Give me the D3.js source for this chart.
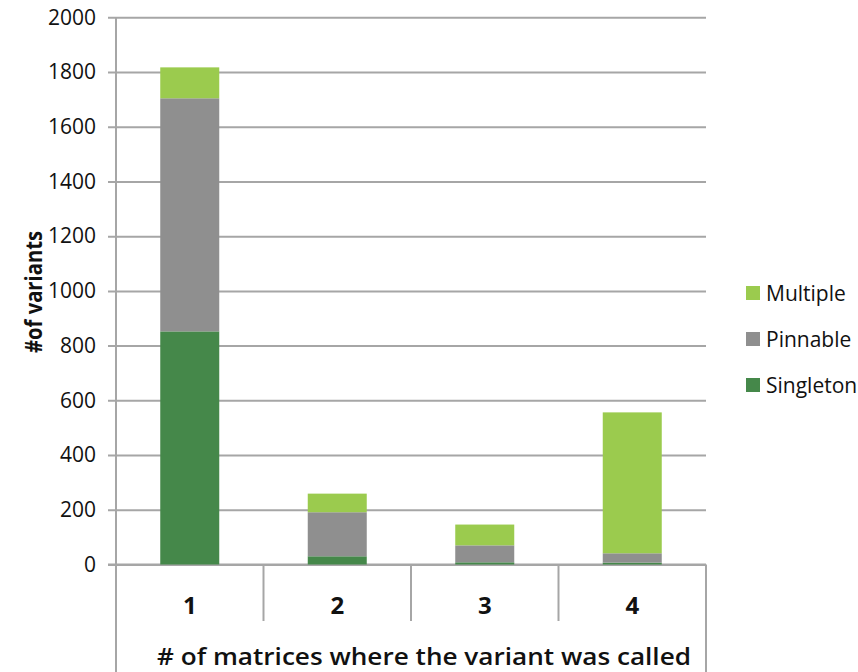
<!DOCTYPE html>
<html><head><meta charset="utf-8">
<script src="https://cdn.jsdelivr.net/npm/d3@7"></script>
<style>body{margin:0;background:#fff}svg{display:block}text{font-family:"Open Sans",sans-serif;fill:#111}</style>
</head><body><svg id="c" width="858" height="672"></svg>
<script>
const categories = ["1","2","3","4"];
const seriesNames = ["Singleton","Pinnable","Multiple"];
const singleton = [852, 30, 8, 7];
const pinnable = [852, 161, 62, 34];
const multiple = [113, 68, 76, 515];
const yTicks = [0,200,400,600,800,1000,1200,1400,1600,1800,2000];
const colors = {Singleton:"#45884a", Pinnable:"#8f8f8f", Multiple:"#9bcb4e"};

(function(){
const svg = d3.select("#c");
const pL = 116, pR = 706, pT = 17.3, base = 564.5, pB = 672;
const y = d3.scaleLinear().domain([0,2000]).range([base, pT]);
const x = d3.scaleBand().domain(categories).range([pL, pR]).paddingInner(0.6).paddingOuter(0.3);
const gridC = "#a6a6a6";

const yAxis = d3.axisLeft(y).tickValues(yTicks).tickSize(-(pR-pL)).tickPadding(20).tickFormat(d3.format("d"));
const ga = svg.append("g").attr("transform",`translate(${pL},0)`).call(yAxis);
ga.select(".domain").remove();
ga.selectAll(".tick line").attr("stroke",gridC).attr("stroke-width",2).attr("x1",-8);
ga.selectAll(".tick text").style("font-size","21px").style("font-family","'Open Sans',sans-serif").attr("fill","#111");

svg.append("line").attr("x1",pL-8).attr("x2",pR).attr("y1",base).attr("y2",base).attr("stroke",gridC).attr("stroke-width",2);

const rows = categories.map((c,i)=>({cat:c, Singleton:singleton[i], Pinnable:pinnable[i], Multiple:multiple[i]}));
const stack = d3.stack().keys(seriesNames)(rows);
svg.append("g").selectAll("g").data(stack).join("g").attr("fill",d=>colors[d.key])
  .selectAll("rect").data(d=>d).join("rect")
  .attr("x",d=>x(d.data.cat)).attr("width",x.bandwidth())
  .attr("y",d=>y(d[1])).attr("height",d=>y(d[0])-y(d[1]));

svg.append("line").attr("x1",pL).attr("x2",pL).attr("y1",pT).attr("y2",pB).attr("stroke",gridC).attr("stroke-width",2);
svg.append("line").attr("x1",pR).attr("x2",pR).attr("y1",base).attr("y2",pB).attr("stroke",gridC).attr("stroke-width",2);
categories.slice(1).forEach((c,i)=>{
  const xx = pL + (i+1)*(pR-pL)/categories.length;
  svg.append("line").attr("x1",xx).attr("x2",xx).attr("y1",base).attr("y2",621).attr("stroke",gridC).attr("stroke-width",2);
});
svg.append("g").selectAll("text").data(categories).join("text")
  .attr("x",d=>x(d)+x.bandwidth()/2).attr("y",614).attr("text-anchor","middle")
  .style("font-size","24px").style("font-weight","bold").text(d=>d);

svg.append("text").attr("x",(157+691)/2).attr("y",665).attr("text-anchor","middle")
  .attr("textLength",534).attr("lengthAdjust","spacingAndGlyphs")
  .style("font-size","23px").style("font-weight","600").text("# of matrices where the variant was called");
svg.append("text").attr("transform","translate(42,292) rotate(-90)").attr("text-anchor","middle")
  .attr("textLength",122).attr("lengthAdjust","spacingAndGlyphs")
  .style("font-size","23px").style("font-weight","bold").text("#of variants");

const legendOrder = ["Multiple","Pinnable","Singleton"];
const lg = svg.append("g").selectAll("g").data(legendOrder).join("g")
  .attr("transform",(d,i)=>`translate(746,${286+i*46})`);
lg.append("rect").attr("width",14).attr("height",14).attr("fill",d=>colors[d]);
lg.append("text").attr("x",20).attr("y",15).style("font-size","21px").text(d=>d);
})();
</script></body></html>
